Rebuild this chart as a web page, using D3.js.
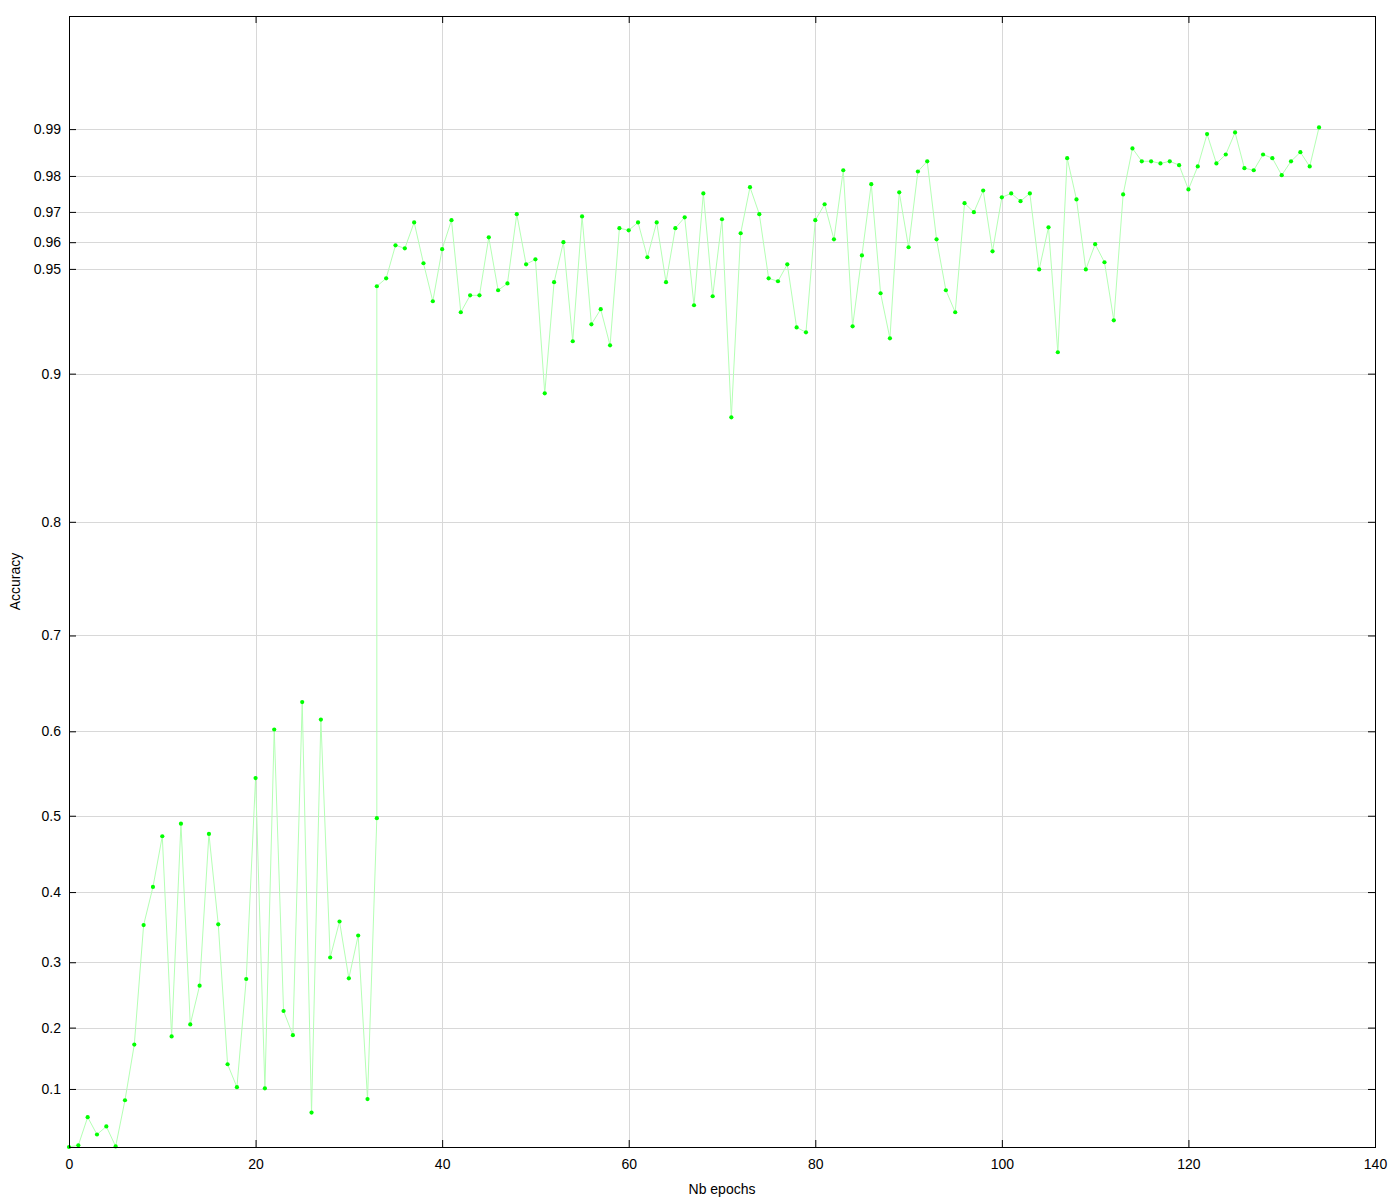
<!DOCTYPE html>
<html>
<head>
<meta charset="utf-8">
<script src="https://cdn.jsdelivr.net/npm/d3@7"></script>
<style>
  html, body { margin: 0; padding: 0; background: #fff; }
  svg { display: block; }
  text { font-family: "Liberation Sans", Arial, sans-serif; }
</style>
</head>
<body>
<svg id="chart" width="1400" height="1200"></svg>
<script>
// ---- data ----
const epochs = [
  0,1,2,3,4,5,6,7,8,9,10,11,12,13,14,15,16,17,18,19,20,21,22,23,24,25,26,27,28,29,30,31,32,33,
  33,34,35,36,37,38,39,40,41,42,43,44,45,46,47,48,49,50,51,52,53,54,55,56,57,58,59,60,
  61,62,63,64,65,66,67,68,69,70,71,72,73,74,75,76,77,78,79,80,81,82,83,84,85,86,87,88,89,90,
  91,92,93,94,95,96,97,98,99,100,101,102,103,104,105,106,107,108,109,110,111,112,113,114,115,
  116,117,118,119,120,121,122,123,124,125,126,127,128,129,130,131,132,133,134
];
const accuracy = [
  0.000,0.003,0.052,0.022,0.036,0.001,0.081,0.173,0.354,0.407,0.474,0.186,0.490,0.205,0.265,0.477,
  0.355,0.141,0.103,0.275,0.546,0.101,0.602,0.226,0.188,0.632,0.060,0.613,0.307,0.359,0.276,0.339,
  0.083,0.497,
  0.9429,0.9462,0.9589,0.9578,0.9667,0.9522,0.9364,0.9575,0.9674,0.9314,0.9390,0.9390,0.9617,0.9412,
  0.9441,0.9693,0.9518,0.9537,0.8887,0.9446,0.9600,0.9173,0.9686,0.9257,0.9328,0.9152,0.9648,0.9641,
  0.9667,0.9545,0.9667,0.9446,0.9648,0.9683,0.9346,0.9754,0.9386,0.9677,0.8741,0.9631,0.9771,0.9693,
  0.9462,0.9450,0.9518,0.9242,0.9218,0.9674,0.9723,0.9610,0.9814,0.9247,0.9552,0.9779,0.9399,0.9188,
  0.9757,0.9582,0.9811,0.9835,0.9610,0.9412,0.9314,0.9726,0.9699,0.9762,0.9567,0.9743,0.9754,0.9732,
  0.9754,0.9498,0.9651,0.9116,0.9842,0.9737,0.9498,0.9593,0.9526,0.9276,0.9751,0.9863,0.9835,0.9835,
  0.9830,0.9835,0.9826,0.9765,0.9823,0.9891,0.9830,0.9850,0.9894,0.9819,0.9814,0.9850,0.9842,0.9802,
  0.9835,0.9855,0.9823,0.9903
];
const xTicks = [0,20,40,60,80,100,120,140];
const yTicks = [0.1,0.2,0.3,0.4,0.5,0.6,0.7,0.8,0.9,0.95,0.96,0.97,0.98,0.99];
const yTickLabels = ["0.1","0.2","0.3","0.4","0.5","0.6","0.7","0.8","0.9","0.95","0.96","0.97","0.98","0.99"];
const xTitle = "Nb epochs";
const yTitle = "Accuracy";

// ---- layout ----
const pL = 69, pR = 1375, pT = 16, pB = 1147;
const svg = d3.select("#chart");

const x = d3.scaleLinear().domain([0, 140]).range([pL, pR]);
// y axis: position proportional to sqrt(1 - accuracy)
const yErr = d3.scaleSqrt().domain([0, 1]).range([pT, pB]);
const y = v => yErr(1 - v);

const crisp = v => Math.round(v) + 0.5;

// grid
const grid = svg.append("g").attr("stroke", "#d8d8d8").attr("stroke-width", 1);
grid.selectAll("line.gx").data(xTicks.filter(t => t > 0 && t < 140)).join("line")
  .attr("x1", d => crisp(x(d))).attr("x2", d => crisp(x(d)))
  .attr("y1", pT).attr("y2", pB);
grid.selectAll("line.gy").data(yTicks).join("line")
  .attr("x1", pL).attr("x2", pR)
  .attr("y1", d => crisp(y(d))).attr("y2", d => crisp(y(d)));

// line + points
const data = epochs.map((e, i) => ({e, a: accuracy[i]}));
svg.append("path").datum(data)
  .attr("fill", "none").attr("stroke", "#b4ffb4").attr("stroke-width", 1)
  .attr("d", d3.line().x(d => x(d.e)).y(d => y(d.a)));
svg.append("g").selectAll("circle").data(data).join("circle")
  .attr("cx", d => x(d.e)).attr("cy", d => y(d.a)).attr("r", 2.1)
  .attr("fill", "#00ff00");

// axes
function styleAxis(g) {
  g.select(".domain").remove();
  g.selectAll(".tick line").attr("stroke", "#000").attr("stroke-width", 1);
  g.selectAll("text").attr("font-size", 14).attr("fill", "#000")
    .attr("font-family", "'Liberation Sans', Arial, sans-serif");
}
const yTickVals = yTicks.map(v => 1 - v);
svg.append("g").attr("transform", `translate(${pL},0)`)
  .call(d3.axisLeft(yErr).tickValues(yTickVals).tickFormat((d, i) => yTickLabels[i])
    .tickSizeInner(-7).tickSizeOuter(0).tickPadding(8))
  .call(styleAxis);
svg.append("g").attr("transform", `translate(${pR},0)`)
  .call(d3.axisRight(yErr).tickValues(yTickVals).tickFormat("")
    .tickSizeInner(-7).tickSizeOuter(0))
  .call(styleAxis);
svg.append("g").attr("transform", `translate(0,${pB})`)
  .call(d3.axisBottom(x).tickValues(xTicks).tickFormat(d3.format("d"))
    .tickSizeInner(-7).tickSizeOuter(0).tickPadding(12))
  .call(styleAxis);
svg.append("g").attr("transform", `translate(0,${pT})`)
  .call(d3.axisTop(x).tickValues(xTicks).tickFormat("")
    .tickSizeInner(-7).tickSizeOuter(0))
  .call(styleAxis);

// frame
svg.append("rect").attr("x", pL + 0.5).attr("y", pT + 0.5)
  .attr("width", pR - pL).attr("height", pB - pT)
  .attr("fill", "none").attr("stroke", "#000").attr("stroke-width", 1);

// titles
svg.append("text").attr("x", (pL + pR) / 2).attr("y", 1194)
  .attr("text-anchor", "middle").attr("font-size", 14).text(xTitle);
svg.append("text").attr("transform", `translate(20,${(pT + pB) / 2}) rotate(-90)`)
  .attr("text-anchor", "middle").attr("font-size", 14).text(yTitle);
</script>
</body>
</html>
